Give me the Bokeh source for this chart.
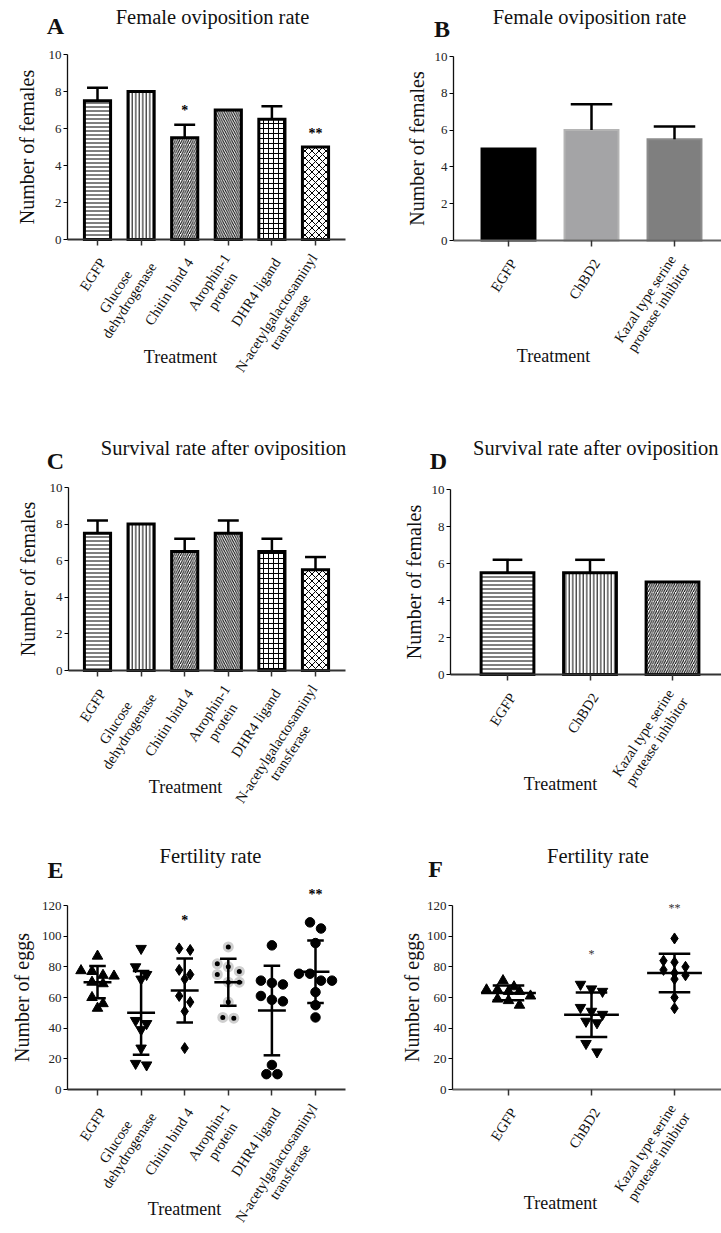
import math
from bokeh.plotting import figure
from bokeh.models import ColumnDataSource, Label, LabelSet, FixedTicker, Range1d
from bokeh.layouts import column, row
from bokeh.core.properties import value
from bokeh.embed import file_html
from bokeh.resources import INLINE

FONT = "Liberation Serif"

# ---------------- data ----------------
treat6 = ["EGFP", "Glucose\ndehydrogenase", "Chitin bind 4", "Atrophin-1\nprotein",
          "DHR4 ligand", "N-acetylgalactosaminyl\ntransferase"]
treat3 = ["EGFP", "ChBD2", "Kazal type serine\nprotease inhibitor"]

# A  Female oviposition rate (6 treatments)
ovi6_mean = [7.5, 8.0, 5.5, 7.0, 6.5, 5.0]
ovi6_err = [0.7, 0.0, 0.7, 0.0, 0.7, 0.0]
ovi6_sig = ["", "", "*", "", "", "**"]
# B  Female oviposition rate (3 treatments)
ovi3_mean = [5.0, 6.0, 5.5]
ovi3_err = [0.0, 1.4, 0.7]
# C  Survival rate after oviposition (6 treatments)
surv6_mean = [7.5, 8.0, 6.5, 7.5, 6.5, 5.5]
surv6_err = [0.7, 0.0, 0.7, 0.7, 0.7, 0.7]
# D  Survival rate after oviposition (3 treatments)
surv3_mean = [5.5, 5.5, 5.0]
surv3_err = [0.7, 0.7, 0.0]
# E  Fertility rate (6 treatments), eggs per female
fert6_egfp = [87, 77.5, 77, 74.5, 74, 70, 69, 60, 56, 53]
fert6_glucose = [92, 80, 75, 72, 45, 43, 39, 27, 17, 16]
fert6_chitin = [92, 91, 78, 75, 72, 61, 57, 51, 27]
fert6_atrophin = [93, 82, 80, 77, 75, 70, 70, 57, 47, 46.5]
fert6_dhr4 = [94, 71, 69.5, 68.5, 61, 58.5, 57.5, 16, 10, 10]
fert6_nacetyl = [109, 105, 95.5, 75.5, 75.5, 71, 71, 63.5, 55, 47]
fert6_mean = [70, 50, 64.6, 70, 51.5, 76.8]
fert6_sd = [10.5, 27.3, 20.9, 15.3, 29.2, 20.4]
fert6_sig = ["", "", "*", "", "", "**"]
# F  Fertility rate (3 treatments)
fert3_egfp = [71, 67, 65, 65, 64, 64, 61, 59, 58, 55]
fert3_chbd2 = [68.6, 65.6, 64, 53.5, 51, 49, 44.5, 43.5, 30, 24.5]
fert3_kazal = [98.5, 84, 83, 80, 78, 76, 74.5, 72, 60, 53]
fert3_mean = [63, 48.7, 76]
fert3_sd = [4.8, 14.5, 12.5]
fert3_sig = ["", "*", "**"]

# ---------------- geometry helpers ----------------
COLW = [360, 361]
COLX = [0, 360]
ROWH = [430, 410, 393]
ROWY = [0, 430, 840]

_U = dict(zip("ABCDEFGHIJKLMNOPQRSTUVWXYZ",
              [722, 667, 667, 722, 611, 556, 722, 722, 333, 389, 722, 611, 889, 722, 722, 556,
               722, 667, 556, 611, 722, 722, 944, 722, 722, 611]))
_L = dict(zip("abcdefghijklmnopqrstuvwxyz",
              [444, 500, 444, 500, 444, 333, 500, 500, 278, 278, 500, 278, 778, 500, 500, 500,
               500, 333, 389, 278, 500, 500, 722, 500, 500, 444]))
_W = {**_U, **_L, " ": 250, "-": 333, "*": 500}


def text_w(s, fs):
    return sum(_W.get(ch, 500) for ch in s) / 1000.0 * fs


class Panel:
    def __init__(self, col, rw, axis_x, axis_y, top_y, top_val, ystep, tick0, dtick, ncat, xend):
        self.col, self.rw = col, rw
        self.W, self.H = COLW[col], ROWH[rw]
        self.axis_y, self.tick0, self.dtick = axis_y, tick0, dtick
        self.FB = self.ly(axis_y)
        self.ppu = (self.ly(axis_y) - self.ly(top_y)) / top_val
        self.ppx = dtick
        self.t0 = self.lx(tick0)
        xs = -self.t0 / self.ppx
        xe = (self.W - self.t0) / self.ppx
        ys = -(self.H - self.FB) / self.ppu
        ye = self.FB / self.ppu
        p = figure(width=self.W, height=self.H, x_range=Range1d(xs, xe),
                   y_range=Range1d(ys, ye), min_border=0, min_border_left=0,
                   min_border_right=0, min_border_top=0, min_border_bottom=0,
                   output_backend="svg", toolbar_location=None, title=None)
        p.grid.visible = False
        p.outline_line_color = None
        p.background_fill_color = "white"
        p.border_fill_color = "white"
        yax_loc = (self.lx(axis_x) - self.t0) / self.ppx
        xax_end = (self.lx(xend) - self.t0) / self.ppx if xend is not None else xe
        p.xaxis.fixed_location = 0
        p.yaxis.fixed_location = yax_loc
        p.xaxis.ticker = FixedTicker(ticks=list(range(ncat)))
        p.xaxis.major_label_overrides = {i: "" for i in range(ncat)}
        p.xaxis.bounds = (yax_loc, xax_end)
        p.xaxis.axis_line_width = 1.8
        p.xaxis.axis_line_color = "#333333"
        p.xaxis.major_tick_line_width = 1.5
        p.xaxis.major_tick_line_color = "#333333"
        p.xaxis.major_tick_out = 6
        p.xaxis.major_tick_in = 0
        p.yaxis.ticker = FixedTicker(ticks=list(range(0, top_val + 1, ystep)), minor_ticks=[])
        p.yaxis.bounds = (0, top_val)
        p.yaxis.axis_line_width = 1.3
        p.yaxis.axis_line_color = "#111111"
        p.yaxis.major_tick_line_width = 1.2
        p.yaxis.major_tick_out = 4
        p.yaxis.major_tick_in = 0
        p.yaxis.major_label_standoff = 2
        p.yaxis.major_label_text_font = FONT
        p.yaxis.major_label_text_font_size = "13px"
        p.yaxis.major_label_text_color = "#222222"
        self.p = p

    def lx(self, x):
        return x - COLX[self.col]

    def ly(self, y):
        return y - ROWY[self.rw]

    def from_local(self, px, py):
        return (px - self.t0) / self.ppx, (self.FB - py) / self.ppu

    def ylabel(self, text, size, standoff):
        ax = self.p.yaxis[0]
        ax.axis_label = text
        ax.axis_label_text_font = FONT
        ax.axis_label_text_font_size = f"{size}px"
        ax.axis_label_text_font_style = "normal"
        ax.axis_label_text_color = "#111111"
        ax.axis_label_standoff = standoff

    def label(self, xr, yr, text, size, bold=False, color="#111111"):
        px, py = self.lx(xr), self.ly(yr)
        half = text_w(text, size) / 2
        px = min(px, self.W - half - 3)
        x, y = self.from_local(px, py)
        self.p.add_layout(Label(x=x, y=y, text=text, text_font=FONT,
                                text_font_size=f"{size}px",
                                text_font_style="bold" if bold else "normal",
                                text_align="center", text_baseline="middle",
                                text_color=color))

    def cat_labels(self, cats, fs=14.5, dx=5, dy=20, ang=57):
        a = math.radians(ang)
        ux, uy = math.cos(a), -math.sin(a)
        pdx, pdy = math.sin(a), math.cos(a)
        lh = fs * 1.12
        xs, ys, ts = [], [], []
        for k, t in enumerate(cats):
            lines = t.split("\n")
            wb = max(text_w(s, fs) for s in lines)
            ax, ay = self.lx(self.tick0 + k * self.dtick + dx), self.ly(self.axis_y + dy)
            cx, cy = ax - wb / 2 * ux, ay - wb / 2 * uy
            n = len(lines)
            for i, s in enumerate(lines):
                off = (i - (n - 1) / 2) * lh
                x, y = self.from_local(cx + off * pdx, cy + off * pdy)
                xs.append(x)
                ys.append(y)
                ts.append(s)
        src = ColumnDataSource(dict(x=xs, y=ys, text=ts))
        self.p.add_layout(LabelSet(x="x", y="y", text="text", source=src, angle=a,
                                   text_align="center", text_baseline="middle",
                                   text_font=value(FONT), text_font_size=value(f"{fs}px"),
                                   text_color="#111111"))

    def sig(self, xs, ys, texts, px_above, size=14, bold=True, color="#000000"):
        for x, y, t in zip(xs, ys, texts):
            if t:
                self.p.add_layout(Label(x=x, y=y + px_above / self.ppu, text=t, text_font=FONT,
                                        text_font_size=f"{size}px",
                                        text_font_style="bold" if bold else "normal",
                                        text_align="center", text_baseline="middle",
                                        text_color=color))


def bars(pn, means, errs, width, fills, lines, hatches, hscales, cap, lw=3):
    xs = list(range(len(means)))
    src = ColumnDataSource(dict(x=xs, top=means, fill=fills, line=lines, hatch=hatches, hs=hscales))
    pn.p.vbar(x="x", top="top", bottom=0, width=width, source=src, fill_color="fill",
              line_color="line", line_width=lw, line_join="miter", hatch_pattern="hatch",
              hatch_scale="hs", hatch_color="black", hatch_weight=1)
    ex = [x for x, e in zip(xs, errs) if e > 0]
    eb = [m for m, e in zip(means, errs) if e > 0]
    et = [m + e for m, e in zip(means, errs) if e > 0]
    pn.p.segment(x0=ex, y0=eb, x1=ex, y1=et, line_width=2.5, line_color="black")
    pn.p.segment(x0=[x - cap for x in ex], y0=et, x1=[x + cap for x in ex], y1=et,
                 line_width=2.5, line_color="black")


def swarm(vals, ppu, ppx, thr_px=9, step_px=11):
    order = sorted(range(len(vals)), key=lambda i: -vals[i])
    rows, cur = [], [order[0]]
    for i in order[1:]:
        if (vals[cur[0]] - vals[i]) * ppu < thr_px:
            cur.append(i)
        else:
            rows.append(cur)
            cur = [i]
    rows.append(cur)
    offs = [0.0] * len(vals)
    for r in rows:
        n = len(r)
        for k, i in enumerate(r):
            offs[i] = (k - (n - 1) / 2) * step_px / ppx
    return offs


def scatter_panel(pn, groups, means, sds, markers, sizes, lcolors, lwidths, mhalf, chalf):
    for k, vals in enumerate(groups):
        offs = swarm(vals, pn.ppu, pn.ppx)
        pn.p.scatter([k + o for o in offs], vals, marker=markers[k], size=sizes[k],
                     fill_color="black", line_color=lcolors[k], line_width=lwidths[k])
    xs = list(range(len(means)))
    lo = [m - s for m, s in zip(means, sds)]
    hi = [m + s for m, s in zip(means, sds)]
    pn.p.segment(x0=xs, y0=lo, x1=xs, y1=hi, line_width=2.5, line_color="black")
    pn.p.segment(x0=[x - mhalf for x in xs], y0=means, x1=[x + mhalf for x in xs], y1=means,
                 line_width=2.5, line_color="black")
    for ys in (lo, hi):
        pn.p.segment(x0=[x - chalf for x in xs], y0=ys, x1=[x + chalf for x in xs], y1=ys,
                     line_width=2.5, line_color="black")


hatch6 = ["-", "|", "/", "\\", "+", "x"]
hscale6 = [4, 3.5, 4.5, 4.5, 5, 7]

# ---------------- Panel A ----------------
pA = Panel(0, 0, 67, 239, 54, 10, 2, 97, 43.6, 6, 345)
bars(pA, ovi6_mean, ovi6_err, 0.6, ["white"] * 6, ["black"] * 6, hatch6, hscale6, 0.24)
pA.sig(range(6), [m + e for m, e in zip(ovi6_mean, ovi6_err)], ovi6_sig, 14)
pA.ylabel("Number of females", 20, 8)
pA.cat_labels(treat6)
pA.label(55, 25, "A", 24, bold=True)
pA.label(212, 16, "Female oviposition rate", 20.5)
pA.label(180, 356, "Treatment", 18)

# ---------------- Panel B ----------------
pB = Panel(1, 0, 453, 240, 56, 10, 2, 508, 83, 3, None)
bars(pB, ovi3_mean, ovi3_err, 0.65, ["#000000", "#a4a4a6", "#7f7f7f"],
     ["#000000", "#b4b4b4", "#8c8c8c"], [" ", " ", " "], [12, 12, 12], 0.25, lw=2)
pB.p.xaxis.axis_line_color = "#666666"
pB.p.xaxis.axis_line_width = 2
pB.ylabel("Number of females", 20, 4)
pB.cat_labels(treat3)
pB.label(441.5, 28.5, "B", 24, bold=True)
pB.label(589, 16, "Female oviposition rate", 20.5)
pB.label(553, 355, "Treatment", 18)

# ---------------- Panel C ----------------
pC = Panel(0, 1, 68, 670, 487, 10, 2, 97, 43.6, 6, 345)
bars(pC, surv6_mean, surv6_err, 0.6, ["white"] * 6, ["black"] * 6, hatch6, hscale6, 0.24)
pC.ylabel("Number of females", 20, 8)
pC.cat_labels(treat6)
pC.label(55, 460, "C", 24, bold=True)
pC.label(223, 447, "Survival rate after oviposition", 20.5)
pC.label(185, 786, "Treatment", 18)

# ---------------- Panel D ----------------
pD = Panel(1, 1, 450, 674, 489, 10, 2, 507, 82.5, 3, None)
bars(pD, surv3_mean, surv3_err, 0.64, ["white"] * 3, ["black"] * 3, ["-", "|", "/"],
     [4, 3.5, 4.5], 0.18)
pD.ylabel("Number of females", 20, 4)
pD.cat_labels(treat3)
pD.label(438, 460, "D", 24, bold=True)
pD.label(600, 447, "Survival rate after oviposition", 20.5)
pD.label(560, 783, "Treatment", 18)

# ---------------- Panel E ----------------
pE = Panel(0, 2, 67, 1089, 905, 120, 20, 97, 43.6, 6, 345)
egroups = [fert6_egfp, fert6_glucose, fert6_chitin, fert6_atrophin, fert6_dhr4, fert6_nacetyl]
scatter_panel(pE, egroups, fert6_mean, fert6_sd,
              ["triangle", "inverted_triangle", "diamond", "circle", "circle", "circle"],
              [10.5, 10.5, 11, 8, 9.5, 9.5], ["black", "black", "black", "#cfcfcf", "black", "black"],
              [1, 1, 1, 3, 1, 1], 0.32, 0.19)
pE.sig(range(6), [max(g) for g in egroups], fert6_sig, 28)
pE.ylabel("Number of eggs", 20, 6)
pE.cat_labels(treat6)
pE.label(55, 869, "E", 24, bold=True)
pE.label(210, 855, "Fertility rate", 20.5)
pE.label(184, 1208, "Treatment", 18)

# ---------------- Panel F ----------------
pF = Panel(1, 2, 452, 1089, 905, 120, 20, 508, 83, 3, None)
fgroups = [fert3_egfp, fert3_chbd2, fert3_kazal]
scatter_panel(pF, fgroups, fert3_mean, fert3_sd,
              ["triangle", "inverted_triangle", "diamond"], [10.5, 10.5, 11],
              ["black", "black", "black"], [1, 1, 1], 0.33, 0.19)
pF.p.xaxis.axis_line_color = "#666666"
pF.p.xaxis.axis_line_width = 2
pF.sig(range(3), [max(g) for g in fgroups], fert3_sig, 30, size=12, bold=False, color="#333333")
pF.ylabel("Number of eggs", 20, 1)
pF.cat_labels(treat3)
pF.label(435, 868, "F", 24, bold=True)
pF.label(597.5, 855, "Fertility rate", 20.5)
pF.label(560, 1202, "Treatment", 18)

layout = column(row(pA.p, pB.p, spacing=0), row(pC.p, pD.p, spacing=0),
                row(pE.p, pF.p, spacing=0), spacing=0)

open("out.html", "w").write(file_html(layout, INLINE))
